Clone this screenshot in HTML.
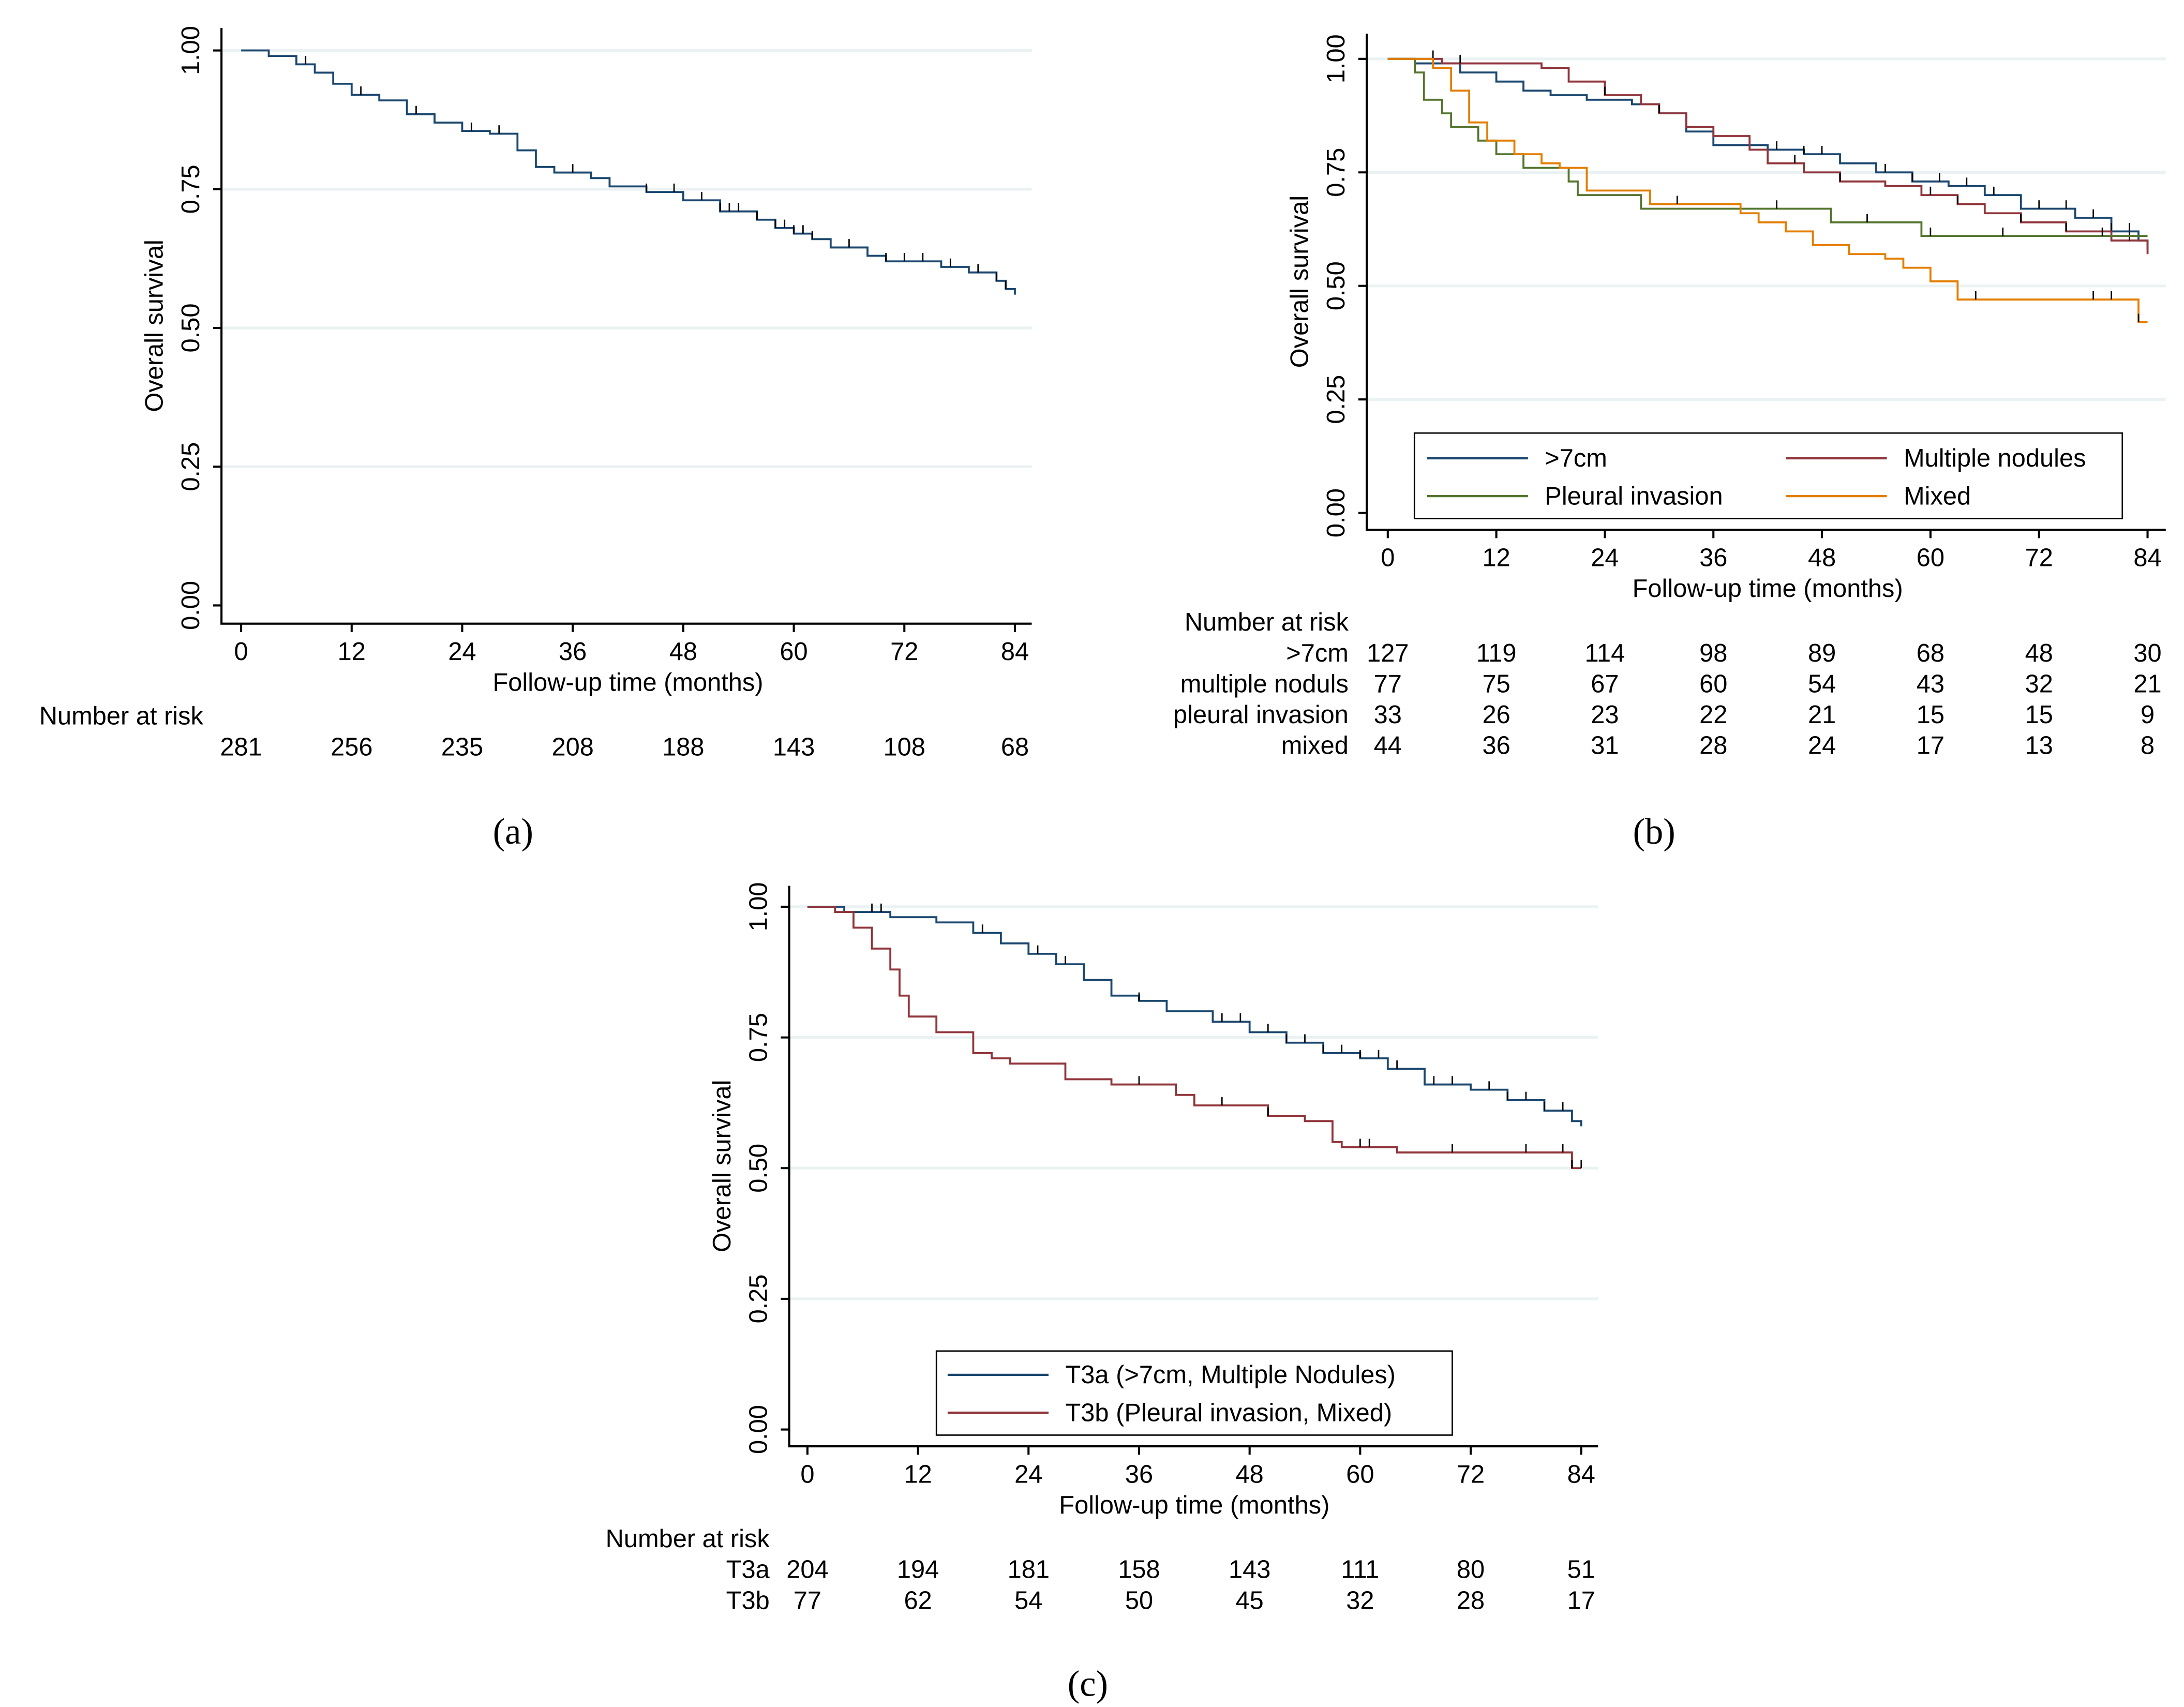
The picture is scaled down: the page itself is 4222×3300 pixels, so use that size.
<!DOCTYPE html>
<html><head><meta charset="utf-8">
<style>
html,body{margin:0;padding:0;background:#fff;}
svg{display:block;}
text{font-family:"Liberation Sans",sans-serif;font-size:18px;fill:#000;}
.cap{font-family:"Liberation Serif",serif;font-size:26px;}
</style></head>
<body>
<svg id="fig" width="4222" height="3300" viewBox="0 0 1558 1218" preserveAspectRatio="none" xmlns="http://www.w3.org/2000/svg"></svg>
<script>
// ---- Panel a data ----
const aTimes = [0,3,6,8,10,12,15,18,21,24,27,30,32,34,38,40,44,48,52,56,58,60,62,64,68,70,76,79,82,83,84];
const aSurv  = [1,0.99,0.975,0.96,0.94,0.92,0.91,0.885,0.87,0.855,0.85,0.82,0.79,0.78,0.77,0.755,0.745,0.73,0.71,0.695,0.68,0.67,0.66,0.645,0.63,0.62,0.61,0.6,0.585,0.57,0.56];
const aCens  = [7,13,19,25,28,36,44,47,50,52,53,54,56,58,59,60,61,62,66,70,72,74,77,80,82,83];
// ---- Panel b data ----
const bBigT = [0,3,8,12,15,18,22,27,30,33,36,42,46,50,54,58,62,66,70,76,80,83,84];
const bBigS = [1,0.99,0.97,0.95,0.93,0.92,0.91,0.9,0.88,0.84,0.81,0.8,0.79,0.77,0.75,0.73,0.72,0.7,0.67,0.65,0.62,0.6,0.58];
const bMulT = [0,6,17,20,24,28,30,33,36,40,42,46,50,55,59,63,66,70,75,80,84];
const bMulS = [1,0.99,0.98,0.95,0.92,0.9,0.88,0.85,0.83,0.8,0.77,0.75,0.73,0.72,0.7,0.68,0.66,0.64,0.62,0.6,0.57];
const bPleT = [0,3,4,6,7,10,12,15,20,21,28,40,49,55,59,84];
const bPleS = [1,0.97,0.91,0.88,0.85,0.82,0.79,0.76,0.73,0.7,0.67,0.67,0.64,0.64,0.61,0.61];
const bMixT = [0,5,7,9,11,14,17,19,22,29,39,41,44,47,51,55,57,60,63,82,83,84];
const bMixS = [1,0.98,0.93,0.86,0.82,0.79,0.77,0.76,0.71,0.68,0.66,0.64,0.62,0.59,0.57,0.56,0.54,0.51,0.47,0.47,0.42,0.42];
const bBigC = [28,43,46,48,55,58,61,64,67,72,75,78,80,82];
const bMulC = [5,8,24,30,45,50,60,63,70,75,82];
const bPleC = [43,53,60,68,79];
const bMixC = [32,65,78,80,83];
// ---- Panel c data ----
const cT3aT = [0,4,9,14,18,21,24,27,30,33,36,39,44,48,52,56,60,63,67,72,76,80,83,84];
const cT3aS = [1,0.99,0.98,0.97,0.95,0.93,0.91,0.89,0.86,0.83,0.82,0.8,0.78,0.76,0.74,0.72,0.71,0.69,0.66,0.65,0.63,0.61,0.59,0.58];
const cT3bT = [0,3,5,7,9,10,11,14,18,20,22,28,33,40,42,50,54,57,58,64,82,83,84];
const cT3bS = [1,0.99,0.96,0.92,0.88,0.83,0.79,0.76,0.72,0.71,0.7,0.67,0.66,0.64,0.62,0.6,0.59,0.55,0.54,0.53,0.53,0.5,0.5];
const cT3aC = [7,8,19,25,28,36,45,47,50,52,54,56,58,60,62,64,68,70,74,76,78,80,82];
const cT3bC = [36,45,50,60,61,70,78,82,83,84];
// ---- shared ----
const xTicks = [0,12,24,36,48,60,72,84];
const yTicks = [0,0.25,0.5,0.75,1];
const yTickLabels = ["0.00","0.25","0.50","0.75","1.00"];
const riskA = [281,256,235,208,188,143,108,68];
const riskB1 = [127,119,114,98,89,68,48,30];
const riskB2 = [77,75,67,60,54,43,32,21];
const riskB3 = [33,26,23,22,21,15,15,9];
const riskB4 = [44,36,31,28,24,17,13,8];
const riskC1 = [204,194,181,158,143,111,80,51];
const riskC2 = [77,62,54,50,45,32,28,17];

const NS="http://www.w3.org/2000/svg";
const svg=document.getElementById('fig');
function mk(tag,attrs,parent,txt){const e=document.createElementNS(NS,tag);for(const k in attrs)e.setAttribute(k,attrs[k]);if(txt!==undefined)e.textContent=txt;(parent||svg).appendChild(e);return e;}
const BLUE="#1a476f",RED="#90353b",GREEN="#55752f",ORANGE="#e37e00";

function panel(P){
  const g=mk('g',{});
  
  
  const X=t=>P.x0+(P.x84-P.x0)*t/84;
  const Y=v=>P.y0+(P.y1-P.y0)*v;
  // grid
  yTicks.forEach((v,i)=>{
    if(v>0){const l=mk('line',{x1:P.axL,x2:P.axR,y1:Y(v),y2:Y(v),stroke:'#eaf2f3','stroke-width':2},g);
    }
    const tk=mk('line',{x1:P.axL-6,x2:P.axL,y1:Y(v),y2:Y(v),stroke:'#000','stroke-width':1.5},g);
    
    const tx=mk('text',{x:P.axL-16,y:Y(v),'text-anchor':'middle',transform:`rotate(-90 ${P.axL-16} ${Y(v)})`},g,yTickLabels[i]);
    
  });
  xTicks.forEach(t=>{
    const tk=mk('line',{x1:X(t),x2:X(t),y1:P.axB,y2:P.axB+6,stroke:'#000','stroke-width':1.5},g);
    
    const tx=mk('text',{x:X(t),y:P.axB+26,'text-anchor':'middle'},g,String(t));
    
  });
  const ax=mk('path',{d:`M${P.axL},${P.axT}V${P.axB}H${P.axR}`,fill:'none',stroke:'#000','stroke-width':1.5},g);
  
  const xt=mk('text',{x:(X(0)+X(84))/2,y:P.axB+48,'text-anchor':'middle'},g,'Follow-up time (months)');
  
  const yx=P.axL-42, ym=(P.axT+P.axB)/2;
  const yt=mk('text',{x:yx,y:ym,'text-anchor':'middle',transform:`rotate(-90 ${yx} ${ym})`},g,'Overall survival');
  
  // curves
  P.series.forEach(s=>{
    let d=`M${X(s.t[0])},${Y(s.s[0])}`;
    for(let i=1;i<s.t.length;i++){d+=`H${X(s.t[i])}V${Y(s.s[i])}`;}
    const p=mk('path',{d:d,fill:'none',stroke:s.c,'stroke-width':1.4},g);
    
    s.cens.forEach(ct=>{
      let v=s.s[0];for(let i=0;i<s.t.length;i++){if(s.t[i]<=ct)v=s.s[i];}
      const m=mk('line',{x1:X(ct),x2:X(ct),y1:Y(v)-6,y2:Y(v),stroke:'#000','stroke-width':1},g);
      
    });
  });
  // legend
  if(P.legend){
    const L=P.legend;
    const r=mk('rect',{x:L.x,y:L.y,width:L.w,height:L.h,fill:'#fff',stroke:'#000','stroke-width':1},g);
    
    L.items.forEach(it=>{
      const ln=mk('line',{x1:it.x,x2:it.x+72,y1:it.y,y2:it.y,stroke:it.c,'stroke-width':1.6},g);
      
      const tx=mk('text',{x:it.x+84,y:it.y+6},g,it.label);
      
    });
  }
  // risk table
  const h=mk('text',{x:P.riskHead.x,y:P.riskHead.y,'text-anchor':P.riskHead.a},g,'Number at risk');
  
  P.risk.forEach(r=>{
    if(r.label){const lt=mk('text',{x:P.riskLabelX,y:r.y,'text-anchor':'end'},g,r.label);
      }
    r.v.forEach((n,i)=>{
      const tx=mk('text',{x:X(xTicks[i]),y:r.y,'text-anchor':'middle'},g,String(n));
      
    });
  });
  const cap=mk('text',{x:P.cap.x,y:P.cap.y,'text-anchor':'middle',class:'cap'},g,P.cap.t);
  
}

panel({name:'panel-a',x0:172,x84:724,y0:432,y1:36,axL:158,axR:736,axT:20,axB:445,
  series:[{n:'overall',t:aTimes,s:aSurv,c:BLUE,cens:aCens}],
  riskHead:{x:145,y:517,a:'end'},riskLabelX:145,
  risk:[{v:riskA,y:539}],cap:{x:366,y:602,t:'(a)'}});

panel({name:'panel-b',x0:990,x84:1532,y0:366,y1:42,axL:975,axR:1545,axT:24,axB:378,
  series:[{n:'gt7cm',t:bBigT,s:bBigS,c:BLUE,cens:bBigC},{n:'multiple-nodules',t:bMulT,s:bMulS,c:RED,cens:bMulC},
          {n:'pleural-invasion',t:bPleT,s:bPleS,c:GREEN,cens:bPleC},{n:'mixed',t:bMixT,s:bMixS,c:ORANGE,cens:bMixC}],
  legend:{x:1009,y:309,w:505,h:61,items:[{x:1018,y:327,c:BLUE,label:'>7cm'},{x:1274,y:327,c:RED,label:'Multiple nodules'},
    {x:1018,y:354,c:GREEN,label:'Pleural invasion'},{x:1274,y:354,c:ORANGE,label:'Mixed'}]},
  riskHead:{x:962,y:450,a:'end'},riskLabelX:962,
  risk:[{label:'>7cm',v:riskB1,y:472},{label:'multiple noduls',v:riskB2,y:494},{label:'pleural invasion',v:riskB3,y:516},{label:'mixed',v:riskB4,y:538}],
  cap:{x:1180,y:602,t:'(b)'}});

panel({name:'panel-c',x0:576,x84:1128,y0:1020,y1:647,axL:563,axR:1140,axT:632,axB:1032,
  series:[{n:'t3a',t:cT3aT,s:cT3aS,c:BLUE,cens:cT3aC},{n:'t3b',t:cT3bT,s:cT3bS,c:RED,cens:cT3bC}],
  legend:{x:668,y:964,w:368,h:60,items:[{x:676,y:981,c:BLUE,label:'T3a (>7cm, Multiple Nodules)'},{x:676,y:1008,c:RED,label:'T3b (Pleural invasion, Mixed)'}]},
  riskHead:{x:549,y:1104,a:'end'},riskLabelX:549,
  risk:[{label:'T3a',v:riskC1,y:1126},{label:'T3b',v:riskC2,y:1148}],
  cap:{x:776,y:1210,t:'(c)'}});
</script>
</body></html>
